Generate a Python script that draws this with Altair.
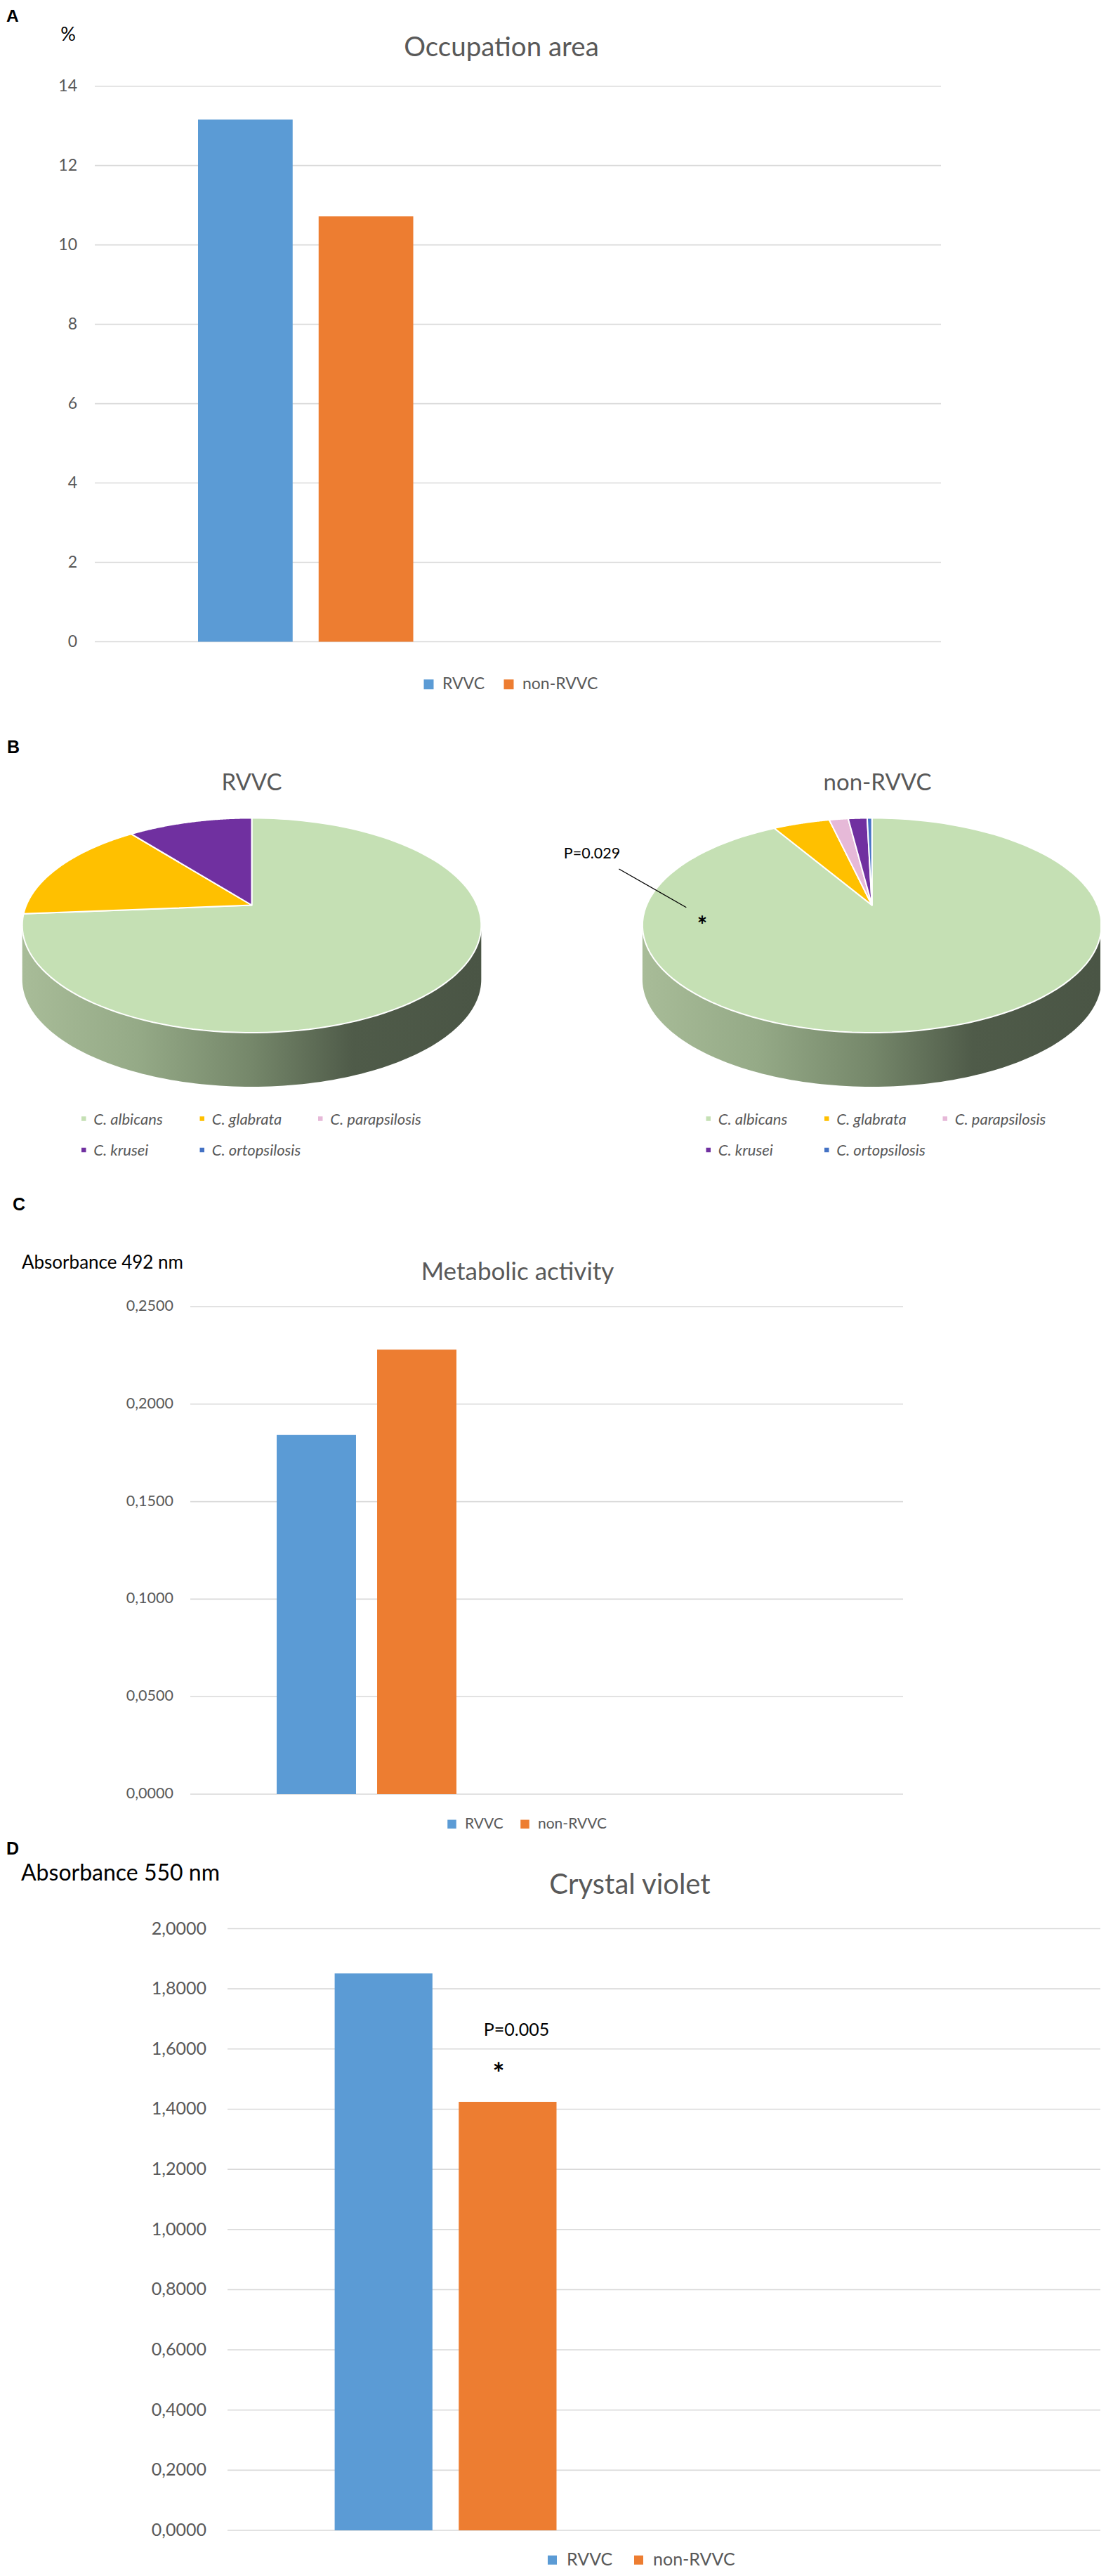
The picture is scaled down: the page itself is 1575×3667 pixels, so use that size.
import altair as alt
import pandas as pd

# ---------------- data ----------------
GROUPS = ["RVVC", "non-RVVC"]
OCCUPATION_AREA = [13.16, 10.72]        # %
METABOLIC_ACTIVITY = [0.1842, 0.2279]   # absorbance 492 nm
CRYSTAL_VIOLET = [1.851, 1.4245]        # absorbance 550 nm

A_TICKS = [0, 2, 4, 6, 8, 10, 12, 14]
A_TICK_LABELS = ["0", "2", "4", "6", "8", "10", "12", "14"]
C_TICKS = [0.0, 0.05, 0.10, 0.15, 0.20, 0.25]
C_TICK_LABELS = ["0,0000", "0,0500", "0,1000", "0,1500", "0,2000", "0,2500"]
D_TICKS = [0.0, 0.2, 0.4, 0.6, 0.8, 1.0, 1.2, 1.4, 1.6, 1.8, 2.0]
D_TICK_LABELS = ["0,0000", "0,2000", "0,4000", "0,6000", "0,8000", "1,0000",
                 "1,2000", "1,4000", "1,6000", "1,8000", "2,0000"]

SPECIES = ["C. albicans", "C. glabrata", "C. parapsilosis", "C. krusei", "C. ortopsilosis"]
RVVC_COUNTS = [14, 3, 0, 2, 0]
NON_RVVC_COUNTS = [229, 12, 4, 4, 1]

# ---------------- styles ----------------
GROUP_COLORS = ["#5b9bd5", "#ed7d31"]
SPECIES_COLORS = ["#c5e0b4", "#ffc000", "#e6b9d8", "#7030a0", "#4472c4"]
FONT = "Lato"
LETTER_FONT = "Liberation Sans"
GRAY = "#595959"
GRID = "#d9d9d9"
OFF = 8                      # page margin
W, H = 1559, 3651

# pie geometry (perspective ellipse)
TILT = 0.188
PIE_A = 321.0
PIE_B = 147.4
PIE_CY = 1288.5
DEPTH = 0.522
ARC_N = 120
SIDE_N = 120
SIDE_GRADIENT = alt.Gradient(
    gradient="linear", x1=0, x2=1, y1=0, y2=0,
    stops=[alt.GradientStop(color="#a8bc98", offset=0),
           alt.GradientStop(color="#95aa87", offset=0.25),
           alt.GradientStop(color="#75876a", offset=0.5),
           alt.GradientStop(color="#4f5b49", offset=0.72),
           alt.GradientStop(color="#4a5545", offset=1)])

# pie legend layout
LEG_STEP = 168.5
LEG_ROW1 = 1592.5
LEG_ROW2 = 1637.0
LEG_SYM = 6.5


def text(t, x, y, size, color=GRAY, weight="normal", style="normal",
         align="center", font=FONT):
    return alt.Chart(pd.DataFrame({"t": [t]})).mark_text(
        align=align, baseline="alphabetic", fontSize=size, font=font,
        color=color, fontWeight=weight, fontStyle=style
    ).encode(x=alt.value(x - OFF), y=alt.value(y - OFF), text="t:N")


def bar_panel(values, ticks, tick_labels, y_top, y_zero, grid_x0, grid_x1,
              bar_x0, bar_x1, pad_inner, label_right, label_size,
              legend_x, legend_y, legend_size, sym, col_pad):
    df = pd.DataFrame({"group": GROUPS, "value": values})
    tdf = pd.DataFrame({"v": ticks, "label": tick_labels})
    ys = alt.Scale(domain=[ticks[0], ticks[-1]], range=[y_zero - OFF, y_top - OFF],
                   nice=False, zero=False)
    grid = alt.Chart(tdf).mark_rule(color=GRID, strokeWidth=1.6).encode(
        y=alt.Y("v:Q", scale=ys, axis=None),
        x=alt.value(grid_x0 - OFF), x2=alt.value(grid_x1 - OFF))
    labels = alt.Chart(tdf).mark_text(
        align="right", baseline="middle", font=FONT, fontSize=label_size, color=GRAY
    ).encode(y=alt.Y("v:Q", scale=ys, axis=None), x=alt.value(label_right - OFF),
             text="label:N")
    bars = alt.Chart(df).mark_bar().encode(
        x=alt.X("group:N", sort=GROUPS, axis=None,
                scale=alt.Scale(range=[bar_x0 - OFF, bar_x1 - OFF],
                                paddingInner=pad_inner, paddingOuter=0)),
        y=alt.Y("value:Q", scale=ys, axis=None),
        color=alt.Color("group:N", sort=GROUPS,
                        scale=alt.Scale(domain=GROUPS, range=GROUP_COLORS),
                        legend=alt.Legend(
                            orient="none", legendX=legend_x - OFF,
                            legendY=legend_y - OFF - legend_size / 2,
                            direction="horizontal", title=None, symbolType="square",
                            symbolSize=sym * sym, symbolStrokeWidth=0,
                            labelFont=FONT, labelFontSize=legend_size,
                            labelColor=GRAY, labelOffset=8,
                            columnPadding=col_pad, padding=0)))
    return alt.layer(grid, labels, bars)


def pie_panel(counts, cx):
    df = pd.DataFrame({"species": SPECIES, "n": counts,
                       "k": list(range(len(SPECIES)))})
    xs = alt.Scale(domain=[-1, 1], range=[cx - PIE_A - OFF, cx + PIE_A - OFF],
                   nice=False, zero=False)
    ys = alt.Scale(domain=[-1, 1], range=[PIE_CY + PIE_B - OFF, PIE_CY - PIE_B - OFF],
                   nice=False, zero=False)
    side = alt.Chart(alt.sequence(0, SIDE_N + 1, as_="j")).transform_calculate(
        th=f"PI/2 + asin({TILT}) + (PI - 2*asin({TILT})) * datum.j / {SIDE_N}"
    ).transform_calculate(
        w=f"1 + {TILT} * cos(datum.th)"
    ).transform_calculate(
        sx="sin(datum.th) / datum.w"
    ).transform_calculate(
        ytop="cos(datum.th) / datum.w"
    ).transform_calculate(
        ybot=f"datum.ytop - {DEPTH}"
    ).mark_area(color=SIDE_GRADIENT).encode(
        x=alt.X("sx:Q", scale=xs, axis=None),
        y=alt.Y("ytop:Q", scale=ys, axis=None),
        y2="ybot:Q")
    face = alt.Chart(df).transform_filter("datum.n > 0").transform_joinaggregate(
        total="sum(n)"
    ).transform_window(
        cum="sum(n)", sort=[alt.SortField("k")], frame=[None, 0]
    ).transform_calculate(
        a0="(datum.cum - datum.n) / datum.total"
    ).transform_calculate(
        a1="datum.cum / datum.total"
    ).transform_calculate(
        steps=f"sequence(0, {ARC_N + 2})"
    ).transform_flatten(["steps"], as_=["i"]).transform_calculate(
        th=f"2 * PI * (datum.a0 + (datum.a1 - datum.a0) * max(datum.i - 1, 0) / {ARC_N})"
    ).transform_calculate(
        w=f"1 + {TILT} * cos(datum.th)"
    ).transform_calculate(
        fx="datum.i == 0 ? 0 : sin(datum.th) / datum.w"
    ).transform_calculate(
        fy="datum.i == 0 ? 0 : cos(datum.th) / datum.w"
    ).mark_line(interpolate="linear-closed", stroke="white", strokeWidth=2,
                strokeJoin="round").encode(
        x=alt.X("fx:Q", scale=xs, axis=None),
        y=alt.Y("fy:Q", scale=ys, axis=None),
        order="i:Q",
        detail="species:N",
        fill=alt.Fill("species:N", sort=SPECIES,
                      scale=alt.Scale(domain=SPECIES, range=SPECIES_COLORS),
                      legend=None))
    return alt.layer(side, face)


def pie_legend(x0):
    """Legend of the pie: 3 columns x 2 rows, colours from the species scale."""
    df = pd.DataFrame({"species": SPECIES, "k": list(range(len(SPECIES)))})
    base = alt.Chart(df).transform_calculate(
        col="datum.k % 3", row="floor(datum.k / 3)")
    xs = alt.Scale(domain=[0, 2],
                   range=[x0 + LEG_SYM / 2 - OFF, x0 + LEG_SYM / 2 + 2 * LEG_STEP - OFF],
                   nice=False, zero=False)
    ys = alt.Scale(domain=[0, 1], range=[LEG_ROW1 - OFF, LEG_ROW2 - OFF],
                   nice=False, zero=False)
    sq = base.mark_square(size=LEG_SYM * LEG_SYM, opacity=1).encode(
        x=alt.X("col:Q", scale=xs, axis=None),
        y=alt.Y("row:Q", scale=ys, axis=None),
        color=alt.Color("species:N", sort=SPECIES,
                        scale=alt.Scale(domain=SPECIES, range=SPECIES_COLORS),
                        legend=None))
    tx = base.mark_text(align="left", baseline="middle", dx=14, dy=1, font=FONT,
                        fontSize=22, fontStyle="italic", color=GRAY).encode(
        x=alt.X("col:Q", scale=xs, axis=None),
        y=alt.Y("row:Q", scale=ys, axis=None),
        text="species:N")
    return alt.layer(sq, tx)


layers = [
    # ---- A ----
    text("A", 9, 31, 24.5, color="black", weight="bold", align="left", font=LETTER_FONT),
    text("%", 97, 58, 27, color="black"),
    text("Occupation area", 714, 80, 38.5),
    bar_panel(OCCUPATION_AREA, A_TICKS, A_TICK_LABELS, 122.7, 913.5, 135, 1340,
              282, 588.5, 0.2154, 110, 23, 599, 974, 23, 14, 22),
    # ---- B ----
    text("B", 10, 1072, 25, color="black", weight="bold", align="left", font=LETTER_FONT),
    text("RVVC", 358.5, 1125, 33),
    text("non-RVVC", 1249.5, 1125, 33),
    pie_panel(RVVC_COUNTS, 358.5),
    pie_panel(NON_RVVC_COUNTS, 1241.7),
    pie_legend(116),
    pie_legend(1005.5),
    text("P=0.029", 843, 1222, 21.5, color="black"),
    alt.Chart(pd.DataFrame({"a": [0]})).mark_rule(color="black", strokeWidth=1.3).encode(
        x=alt.value(881.4 - OFF), y=alt.value(1237 - OFF),
        x2=alt.value(977.3 - OFF), y2=alt.value(1291.7 - OFF)),
    text("*", 1000, 1329, 34, color="black", weight="bold"),
    # ---- C ----
    text("C", 18, 1723, 25, color="black", weight="bold", align="left", font=LETTER_FONT),
    text("Absorbance 492 nm", 31, 1806, 26, color="black", align="left"),
    text("Metabolic activity", 737, 1822, 35),
    bar_panel(METABOLIC_ACTIVITY, C_TICKS, C_TICK_LABELS, 1860, 2554, 271, 1286,
              394, 650, 0.21, 247, 21.5, 633, 2596.5, 21, 12.5, 20),
    # ---- D ----
    text("D", 9, 2640, 25, color="black", weight="bold", align="left", font=LETTER_FONT),
    text("Absorbance 550 nm", 30, 2677, 32, color="black", align="left"),
    text("Crystal violet", 897, 2696, 40),
    bar_panel(CRYSTAL_VIOLET, D_TICKS, D_TICK_LABELS, 2745.5, 3602, 324, 1572,
              476.6, 792.5, 0.212, 294, 25, 774, 3644, 25, 13, 24),
    text("P=0.005", 735.5, 2898, 25, color="black"),
    text("*", 710, 2966, 40, color="black", weight="bold"),
]

chart = alt.layer(*layers).resolve_scale(
    x="independent", y="independent", color="independent", fill="independent"
).properties(
    width=W, height=H, padding=0, autosize=alt.AutoSizeParams(type="none")
).configure_view(stroke=None)

chart.save("out.html", embed_options={"renderer": "svg", "actions": False})
